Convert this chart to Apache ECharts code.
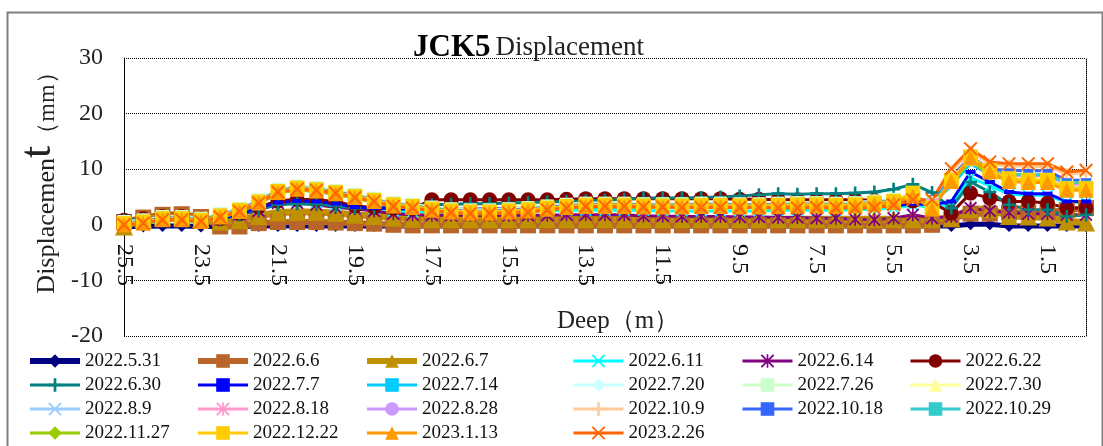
<!DOCTYPE html>
<html>
<head>
<meta charset="utf-8">
<script src="https://cdn.jsdelivr.net/npm/echarts@6/dist/echarts.min.js"></script>
<style>html,body{margin:0;padding:0;background:#fff;}#c{width:1103px;height:446px;}</style>
</head>
<body>
<div id="c"></div>
<script>
const depths = ['25.5','25','24.5','24','23.5','23','22.5','22','21.5','21','20.5','20','19.5','19','18.5','18','17.5','17','16.5','16','15.5','15','14.5','14','13.5','13','12.5','12','11.5','11','10.5','10','9.5','9','8.5','8','7.5','7','6.5','6','5.5','5','4.5','4','3.5','3','2.5','2','1.5','1','0.5'];
const yTicks = [-20, -10, 0, 10, 20, 30];

const d0531 = [-0.3,-0.3,-0.2,-0.2,-0.3,-0.3,-0.3,-0.2,-0.2,-0.2, -0.2,-0.2,-0.2,-0.2,-0.2,-0.2,-0.2,-0.2,-0.2,-0.2, -0.2,-0.2,-0.2,-0.2,-0.2,-0.2,-0.2,-0.2,-0.2,-0.2, -0.2,-0.2,-0.2,-0.2,-0.2,-0.2,-0.2,-0.2,-0.2,-0.2, -0.2,-0.2,-0.2,-0.2,0.1,0.1,-0.2,-0.2,-0.2,-0.2, -0.2];
const d0606 = [0.5,1.3,1.8,1.9,1.4,-0.3,-0.3,0.3,0.5,0.5, 0.5,0.4,0.3,0.2,0.0,-0.1,-0.1,-0.1,-0.1,-0.1, -0.1,-0.1,-0.1,-0.1,-0.1,-0.1,-0.1,-0.1,-0.1,-0.1, -0.1,-0.1,-0.1,-0.1,-0.1,-0.1,-0.1,-0.1,-0.1,-0.1, -0.1,-0.1,0.0,1.0,2.0,2.0,2.2,2.2,2.3,2.6, 3.0];
const d0607 = [-0.3,1.0,1.3,1.3,1.0,0.6,0.8,1.6,2.2,2.3, 2.3,2.1,1.8,1.6,1.3,1.1,1.0,1.0,1.0,1.0, 1.0,1.0,1.0,1.0,1.0,1.0,1.0,1.0,1.0,1.0, 1.0,1.0,1.0,1.0,1.0,1.0,1.0,1.0,1.0,1.0, 1.0,1.0,1.0,1.2,2.8,2.8,1.6,1.5,1.3,0.6, 0.4];
const d0611 = [0.8,1.0,1.3,1.3,1.0,1.0,1.8,3.0,3.9,4.1, 4.0,3.6,3.0,2.8,2.5,2.3,2.3,2.3,2.4,2.4, 2.4,2.5,2.5,2.6,2.6,2.6,2.6,2.6,2.5,2.5, 2.5,2.5,2.5,2.5,2.6,2.6,2.6,2.6,2.7,2.8, 3.0,3.5,3.2,3.5,8.5,7.0,5.5,5.3,5.3,4.0, 4.0];
const d0614 = [0.8,1.0,1.4,1.4,1.0,1.0,1.9,2.5,3.9,3.9, 3.6,3.1,2.9,2.5,2.0,1.8,1.7,1.7,1.7,1.7, 1.7,1.7,1.7,1.8,1.8,1.8,1.8,1.6,1.6,1.5, 1.5,1.5,1.4,1.4,1.3,1.3,1.2,1.2,1.0,0.9, 1.2,1.8,1.2,1.5,3.0,2.5,2.2,2.0,2.0,1.8, 1.8];
const d0622 = [0.8,1.1,1.5,1.5,1.1,1.1,2.0,3.2,4.3,4.6, 4.5,4.2,3.4,3.1,3.0,2.9,4.5,4.5,4.5,4.5, 4.5,4.5,4.5,4.6,4.7,4.7,4.7,4.7,4.7,4.7, 4.7,4.7,4.6,4.6,4.5,4.5,4.5,4.5,4.5,4.4, 4.3,4.3,4.0,2.1,5.7,4.8,4.2,4.2,3.9,3.0, 3.0];
const d0630 = [0.8,1.0,1.4,1.4,1.0,1.0,1.8,2.8,3.6,3.8, 3.7,3.4,3.0,3.0,3.2,3.5,3.6,3.7,3.8,3.8, 3.9,4.0,4.1,4.2,4.3,4.4,4.6,4.8,4.8,4.8, 4.9,5.0,5.2,5.4,5.6,5.5,5.6,5.6,5.7,5.9, 6.4,7.3,5.8,3.0,7.7,5.9,3.6,2.7,2.7,1.5, 1.8];
const d0707 = [0.6,0.9,1.3,1.3,1.0,1.1,2.0,3.0,4.0,4.3, 4.2,3.8,3.2,3.0,2.9,2.8,2.8,2.8,2.8,2.9, 2.9,3.0,3.0,3.1,3.2,3.2,3.2,3.2,3.2,3.2, 3.2,3.2,3.2,3.2,3.3,3.3,3.3,3.3,3.3,3.4, 3.4,3.8,3.6,4.2,9.5,7.7,5.9,5.6,5.6,4.2, 4.2];
const d0714 = [-0.1,0.2,0.8,0.8,0.5,1.3,2.3,3.8,5.7,6.3, 6.0,5.5,4.8,4.1,3.3,3.0,2.5,2.2,2.0,2.0, 2.2,2.4,2.7,3.0,3.2,3.2,3.2,3.1,3.1,3.1, 3.2,3.2,3.1,3.1,3.2,3.3,3.3,3.2,3.3,3.6, 3.9,5.0,3.8,7.0,11.0,9.0,8.5,8.3,8.3,7.0, 7.0];
const d0720 = [0.4,0.7,1.3,1.3,1.0,1.8,2.8,4.3,6.2,6.8, 6.5,6.0,5.3,4.6,3.8,3.5,3.0,2.7,2.5,2.5, 2.7,2.9,3.2,3.5,3.7,3.7,3.7,3.6,3.6,3.6, 3.7,3.7,3.6,3.6,3.7,3.8,3.8,3.7,3.8,4.1, 4.4,5.2,3.8,7.8,11.6,9.5,8.8,8.6,8.6,7.2, 7.2];
const d0726 = [0.6,0.9,1.5,1.5,1.2,2.0,3.0,4.5,6.4,7.0, 6.7,6.2,5.5,4.8,4.0,3.7,3.2,2.9,2.7,2.7, 2.9,3.1,3.4,3.7,3.9,3.9,3.9,3.8,3.8,3.8, 3.9,3.9,3.8,3.8,3.9,4.0,4.0,3.9,4.0,4.3, 4.6,5.4,3.9,8.0,11.8,9.6,8.9,8.7,8.7,7.3, 7.3];
const d0730 = [0.3,0.6,1.2,1.2,0.9,1.7,2.7,4.2,6.1,6.7, 6.4,5.9,5.2,4.5,3.7,3.4,2.9,2.6,2.4,2.4, 2.6,2.8,3.1,3.4,3.6,3.6,3.6,3.5,3.5,3.5, 3.6,3.6,3.5,3.5,3.6,3.7,3.7,3.6,3.7,4.0, 4.3,5.1,3.7,7.9,11.9,9.7,8.7,8.5,8.5,7.1, 7.1];
const d0809 = [0.4,0.7,1.3,1.3,1.0,1.8,2.8,4.3,6.2,6.8, 6.5,6.0,5.3,4.6,3.8,3.5,3.0,2.7,2.5,2.5, 2.7,2.9,3.2,3.5,3.7,3.7,3.7,3.6,3.6,3.6, 3.7,3.7,3.6,3.6,3.7,3.8,3.8,3.7,3.8,4.1, 4.4,5.2,3.8,8.2,12.0,9.9,9.2,9.0,9.0,7.5, 7.5];
const d0818 = [0.3,0.6,1.2,1.2,0.9,1.7,2.7,4.2,6.1,6.7, 6.4,5.9,5.2,4.5,3.7,3.4,2.9,2.6,2.4,2.4, 2.6,2.8,3.1,3.4,3.6,3.6,3.6,3.5,3.5,3.5, 3.6,3.6,3.5,3.5,3.6,3.7,3.7,3.6,3.7,4.0, 4.3,5.1,3.8,8.1,12.0,9.8,9.0,8.9,8.9,7.4, 7.4];
const d0828 = [0.2,0.5,1.1,1.1,0.8,1.6,2.6,4.1,6.0,6.6, 6.3,5.8,5.1,4.4,3.6,3.3,2.8,2.5,2.3,2.3, 2.5,2.7,3.0,3.3,3.5,3.5,3.5,3.4,3.4,3.4, 3.5,3.5,3.4,3.4,3.5,3.6,3.6,3.5,3.6,3.9, 4.2,5.0,3.7,8.0,11.9,9.7,8.9,8.8,8.8,7.3, 7.3];
const d1009 = [0.1,0.4,1.0,1.0,0.7,1.5,2.5,4.0,5.9,6.5, 6.2,5.7,5.0,4.3,3.5,3.2,2.7,2.4,2.2,2.2, 2.4,2.6,2.9,3.2,3.4,3.4,3.4,3.3,3.3,3.3, 3.4,3.4,3.3,3.3,3.4,3.5,3.5,3.4,3.5,3.8, 4.1,4.8,4.2,9.6,13.2,10.9,10.6,10.5,10.5,9.1, 9.3];
const d1018 = [0.3,0.6,1.2,1.2,0.9,1.7,2.7,4.2,6.1,6.7, 6.4,5.9,5.2,4.5,3.7,3.4,2.9,2.6,2.4,2.4, 2.6,2.8,3.1,3.4,3.6,3.6,3.6,3.5,3.5,3.5, 3.6,3.6,3.5,3.5,3.6,3.7,3.7,3.6,3.7,4.0, 4.3,5.1,3.8,8.5,12.3,10.0,9.8,9.7,9.7,8.0, 8.0];
const d1029 = [0.2,0.5,1.1,1.1,0.8,1.6,2.6,4.1,6.0,6.6, 6.3,5.8,5.1,4.4,3.6,3.3,2.8,2.5,2.3,2.3, 2.5,2.7,3.0,3.3,3.5,3.5,3.5,3.4,3.4,3.4, 3.5,3.5,3.4,3.4,3.5,3.6,3.6,3.5,3.6,3.9, 4.2,5.0,3.7,8.1,11.6,9.4,9.1,9.0,9.0,7.6, 7.6];
const d1127 = [-0.1,0.2,0.8,0.8,0.5,1.3,2.3,3.8,5.7,6.3, 6.0,5.5,4.8,4.1,3.3,3.0,2.5,2.2,2.0,2.0, 2.2,2.4,2.7,3.0,3.2,3.2,3.2,3.1,3.1,3.1, 3.2,3.2,3.1,3.1,3.2,3.3,3.3,3.2,3.3,3.6, 3.9,5.0,3.3,7.5,11.5,9.0,8.0,7.8,7.8,6.5, 6.5];
const d1222 = [0.2,0.5,1.1,1.1,0.8,1.6,2.6,4.1,6.0,6.6, 6.3,5.8,5.1,4.4,3.6,3.3,2.8,2.5,2.3,2.3, 2.5,2.7,3.0,3.3,3.5,3.5,3.5,3.4,3.4,3.4, 3.5,3.5,3.4,3.4,3.5,3.6,3.6,3.5,3.6,3.9, 4.2,5.7,3.0,8.0,12.2,9.8,8.3,8.0,8.0,6.5, 6.5];
const d0113 = [0.0,0.3,0.9,0.9,0.6,1.4,2.4,3.9,5.8,6.4, 6.1,5.6,4.9,4.2,3.4,3.1,2.6,2.3,2.1,2.1, 2.3,2.5,2.8,3.1,3.3,3.3,3.3,3.2,3.2,3.2, 3.3,3.3,3.2,3.2,3.3,3.4,3.4,3.3,3.4,3.7, 4.0,5.2,2.8,7.8,12.0,9.5,7.8,7.6,7.6,6.2, 6.2];
const d0226 = [0.0,0.3,0.9,0.9,0.6,1.4,2.4,3.9,5.9,6.4, 6.2,5.7,4.9,4.2,3.3,3.0,2.5,2.2,2.0,2.0, 2.1,2.2,2.7,3.0,3.3,3.3,3.3,3.2,3.2,3.1, 3.1,3.1,3.1,3.1,3.0,3.0,3.1,3.0,3.0,3.0, 3.6,4.5,4.5,10.1,13.7,11.3,11.0,11.0,11.0,9.5, 9.8];

const FONT = 'Liberation Serif';
const SYM_PLUS = 'path://M4,0H6V4H10V6H6V10H4V6H0V4H4Z';
const SYM_X = 'path://M1,0L5,4L9,0L10,1L6,5L10,9L9,10L5,6L1,10L0,9L4,5L0,1Z';
const SYM_AST = 'path://M1,0L5,4L9,0L10,1L6,5L10,9L9,10L5,6L1,10L0,9L4,5L0,1ZM4.4,0H5.6V10H4.4Z';

const seriesDefs = [
  ['2022.5.31', d0531, '#000080', 'diamond', 12, 5],
  ['2022.6.6', d0606, '#B9652A', 'rect', 16, 6],
  ['2022.6.7', d0607, '#BF9000', 'triangle', 18, 7],
  ['2022.6.11', d0611, '#00FFFF', SYM_X, 12, 3],
  ['2022.6.14', d0614, '#800080', SYM_AST, 13, 3],
  ['2022.6.22', d0622, '#800000', 'circle', 15, 3],
  ['2022.6.30', d0630, '#008080', SYM_PLUS, 13, 3],
  ['2022.7.7', d0707, '#0000FF', 'rect', [10, 4], 3],
  ['2022.7.14', d0714, '#00CCFF', 'rect', [10, 4], 3],
  ['2022.7.20', d0720, '#CCFFFF', 'diamond', 12, 3],
  ['2022.7.26', d0726, '#CCFFCC', 'rect', 13, 3],
  ['2022.7.30', d0730, '#FFFF99', 'triangle', 13, 3],
  ['2022.8.9', d0809, '#99CCFF', SYM_X, 12, 3],
  ['2022.8.18', d0818, '#FF99CC', SYM_AST, 12, 3],
  ['2022.8.28', d0828, '#CC99FF', 'circle', 12, 3],
  ['2022.10.9', d1009, '#FFCC99', SYM_PLUS, 12, 3],
  ['2022.10.18', d1018, '#3366FF', 'rect', [10, 4], 3],
  ['2022.10.29', d1029, '#33CCCC', 'rect', [10, 4], 3],
  ['2022.11.27', d1127, '#99CC00', 'diamond', 12, 3],
  ['2022.12.22', d1222, '#FFCC00', 'rect', 15, 3],
  ['2023.1.13', d0113, '#FF9900', 'triangle', 15, 3],
  ['2023.2.26', d0226, '#FF6600', SYM_X, 14, 3]
];

const legendCols = [
  ['2022.5.31','2022.6.30','2022.8.9','2022.11.27'],
  ['2022.6.6','2022.7.7','2022.8.18','2022.12.22'],
  ['2022.6.7','2022.7.14','2022.8.28','2023.1.13'],
  ['2022.6.11','2022.7.20','2022.10.9','2023.2.26'],
  ['2022.6.14','2022.7.26','2022.10.18'],
  ['2022.6.22','2022.7.30','2022.10.29']
];
const legendLeft = [27, 195, 364, 572, 741, 909];
const thickNames = ['2022.5.31', '2022.6.6', '2022.6.7'];

const chart = echarts.init(document.getElementById('c'), null, {renderer: 'canvas'});

const series = seriesDefs.map(d => ({
  name: d[0], type: 'line', data: d[1], yAxisIndex: 0,
  symbol: d[3], symbolSize: d[4], showAllSymbol: true,
  lineStyle: {color: d[2], width: d[5]},
  itemStyle: {color: d[2]},
  emphasis: {disabled: true}
}));

const legends = legendCols.map((col, k) => ({
  data: col.map(n => ({name: n, lineStyle: {width: thickNames.indexOf(n) >= 0 ? 6 : 3}})),
  orient: 'vertical', left: legendLeft[k], top: 351, height: 95,
  padding: 0,
  itemWidth: 50, itemHeight: 17, itemGap: 4,
  textStyle: {fontFamily: FONT, fontSize: 19, color: '#111', lineHeight: 20},
  selectedMode: false
}));

chart.setOption({
  animation: false,
  backgroundColor: '#fff',
  title: {
    text: '{a|JCK5} {b|Displacement}',
    left: 408, top: 27,
    textStyle: {fontWeight: 'normal', rich: {
      a: {fontFamily: FONT, fontSize: 31, fontWeight: 'bold', color: '#000'},
      b: {fontFamily: FONT, fontSize: 27, fontWeight: 'normal', color: '#222'}
    }}
  },
  legend: legends,
  grid: {left: 124, right: 17, top: 58, bottom: 110, containLabel: false},
  xAxis: {
    type: 'category', data: depths, boundaryGap: false,
    position: 'bottom', offset: -111,
    name: 'Deep（m）', nameLocation: 'middle', nameGap: 84,
    nameTextStyle: {fontFamily: FONT, fontSize: 25, color: '#222', padding: [0, 0, 0, 26]},
    axisLine: {onZero: false, lineStyle: {color: '#000', width: 1}},
    axisTick: {show: false},
    axisLabel: {interval: 3, rotate: -90, fontFamily: FONT, fontSize: 24, color: '#111', margin: 19},
    splitLine: {show: false}
  },
  yAxis: [{
    type: 'value', min: yTicks[0], max: yTicks[yTicks.length - 1], interval: 10,
    name: '{a|Displacemen}{b|t}{c|（mm）}', nameLocation: 'middle', nameGap: 62, nameRotate: 90,
    nameTextStyle: {padding: [0, 0, 0, 40], rich: {
      a: {fontFamily: FONT, fontSize: 26, color: '#222', verticalAlign: 'bottom'},
      b: {fontFamily: FONT, fontSize: 44, color: '#222', verticalAlign: 'bottom'},
      c: {fontFamily: FONT, fontSize: 24, color: '#222', verticalAlign: 'bottom'}
    }},
    axisLine: {show: true, lineStyle: {color: '#000', width: 1}},
    axisTick: {show: false},
    axisLabel: {fontFamily: FONT, fontSize: 24, color: '#222', margin: 21},
    splitLine: {show: true, lineStyle: {color: '#000', type: 'dotted', width: 1}}
  }, {
    type: 'value', min: yTicks[0], max: yTicks[yTicks.length - 1], interval: 10, position: 'right',
    axisLine: {show: true, lineStyle: {color: '#000', type: 'dotted', width: 1}},
    axisTick: {show: false}, axisLabel: {show: false}, splitLine: {show: false}
  }],
  graphic: [{
    type: 'rect', left: 5, top: 10, silent: true, z: -10,
    shape: {width: 1095, height: 440},
    style: {fill: null, stroke: '#808080', lineWidth: 2}
  }],
  series: series
});
</script>
</body>
</html>
